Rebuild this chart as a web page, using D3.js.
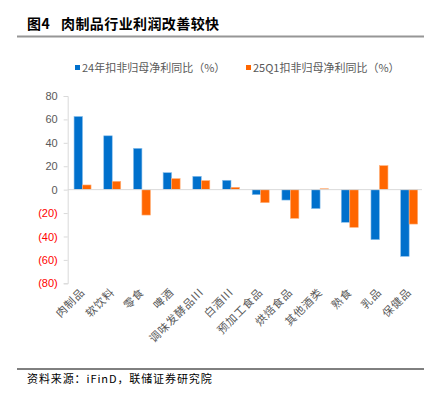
<!DOCTYPE html>
<html>
<head>
<meta charset="utf-8">
<script src="https://cdn.jsdelivr.net/npm/d3@7"></script>
<style>
  body { margin: 0; background: #fff; }
  text { font-family: "Noto Sans CJK SC", "DejaVu Sans", sans-serif; }
</style>
</head>
<body>
<div id="chart"></div>
<script>
const categories = ["肉制品", "软饮料", "零食", "啤酒", "调味发酵品III", "白酒III",
  "预加工食品", "烘焙食品", "其他酒类", "熟食", "乳品", "保健品"];
const seriesNames = ["24年扣非归母净利同比（%）", "25Q1扣非归母净利同比（%）"];
const profit24 = [62.5, 46, 35.3, 14.5, 11.4, 8, -4.3, -8.9, -16.2, -27.9, -42.7, -57];
const profit25Q1 = [4, 7.1, -21.7, 9.4, 7.7, 2, -11.1, -24.5, 0.8, -32.2, 20.5, -29.4];
const yTicks = [80, 60, 40, 20, 0, -20, -40, -60, -80];
const colors = ["#0070cc", "#ff6600"];

const width = 442, height = 398;
const svg = d3.select("#chart").append("svg")
  .attr("width", width).attr("height", height);

// title
svg.append("text")
  .attr("x", 27).attr("y", 29)
  .style("font-size", "14px").style("font-weight", "bold").style("fill", "#000")
  .style("letter-spacing", "0.4px")
  .text("图4\u2002 肉制品行业利润改善较快");
svg.append("line")
  .attr("x1", 17).attr("x2", 424).attr("y1", 36.5).attr("y2", 36.5)
  .attr("stroke", "#969696").attr("stroke-width", 2);

// legend
const legendX = [75, 246];
seriesNames.forEach((name, i) => {
  svg.append("rect")
    .attr("x", legendX[i]).attr("y", 65).attr("width", 5).attr("height", 5)
    .attr("fill", colors[i]);
  svg.append("text")
    .attr("x", legendX[i] + 7).attr("y", 72)
    .style("font-size", "11px").style("fill", "#595959")
    .text(name);
});

const x = d3.scaleBand().domain(categories).range([67.7, 424]).padding(0);
const y = d3.scaleLinear().domain([-80, 80]).range([283.3, 96]);
const barW = 8.5;

// y axis
const yAxis = svg.append("g")
  .attr("transform", "translate(67.7,0)")
  .call(d3.axisLeft(y).tickValues(yTicks).tickSize(4).tickPadding(6)
    .tickFormat(d => d < 0 ? `(${-d})` : d));
yAxis.select(".domain").attr("stroke", "#d9d9d9");
yAxis.selectAll(".tick line").attr("stroke", "#d9d9d9");
yAxis.selectAll(".tick text")
  .style("font-size", "11px")
  .style("font-family", "'Liberation Sans', 'DejaVu Sans', sans-serif")
  .attr("fill", d => d < 0 ? "#ff0000" : "#595959");

// bars
const series = [profit24, profit25Q1];
series.forEach((vals, s) => {
  svg.append("g").selectAll("rect")
    .data(vals)
    .join("rect")
    .attr("x", (d, i) => x(categories[i]) + x.bandwidth() / 2 - barW + s * barW)
    .attr("y", d => y(Math.max(0, d)))
    .attr("width", barW)
    .attr("height", d => Math.abs(y(d) - y(0)))
    .attr("fill", colors[s])
    .attr("stroke", s === 0 ? "#8cc0ec" : "#ffb07a")
    .attr("stroke-width", 0.6);
});

// zero line
svg.append("line")
  .attr("x1", 67.7).attr("x2", 422).attr("y1", y(0)).attr("y2", y(0))
  .attr("stroke", "#d9d9d9").attr("stroke-width", 1);

// x labels
svg.append("g").selectAll("text")
  .data(categories)
  .join("text")
  .attr("transform", d => `translate(${x(d) + x.bandwidth() / 2 + 3},${293}) rotate(-45)`)
  .attr("text-anchor", "end")
  .style("font-size", "11px").style("fill", "#595959")
  .style("letter-spacing", "0.8px")
  .text(d => d);

// source
svg.append("line")
  .attr("x1", 17).attr("x2", 424).attr("y1", 369).attr("y2", 369)
  .attr("stroke", "#000").attr("stroke-width", 1);
svg.append("text")
  .attr("x", 27).attr("y", 383)
  .style("font-size", "11px").style("fill", "#000")
  .style("letter-spacing", "0.9px")
  .text("资料来源：iFinD，联储证券研究院");
</script>
</body>
</html>
